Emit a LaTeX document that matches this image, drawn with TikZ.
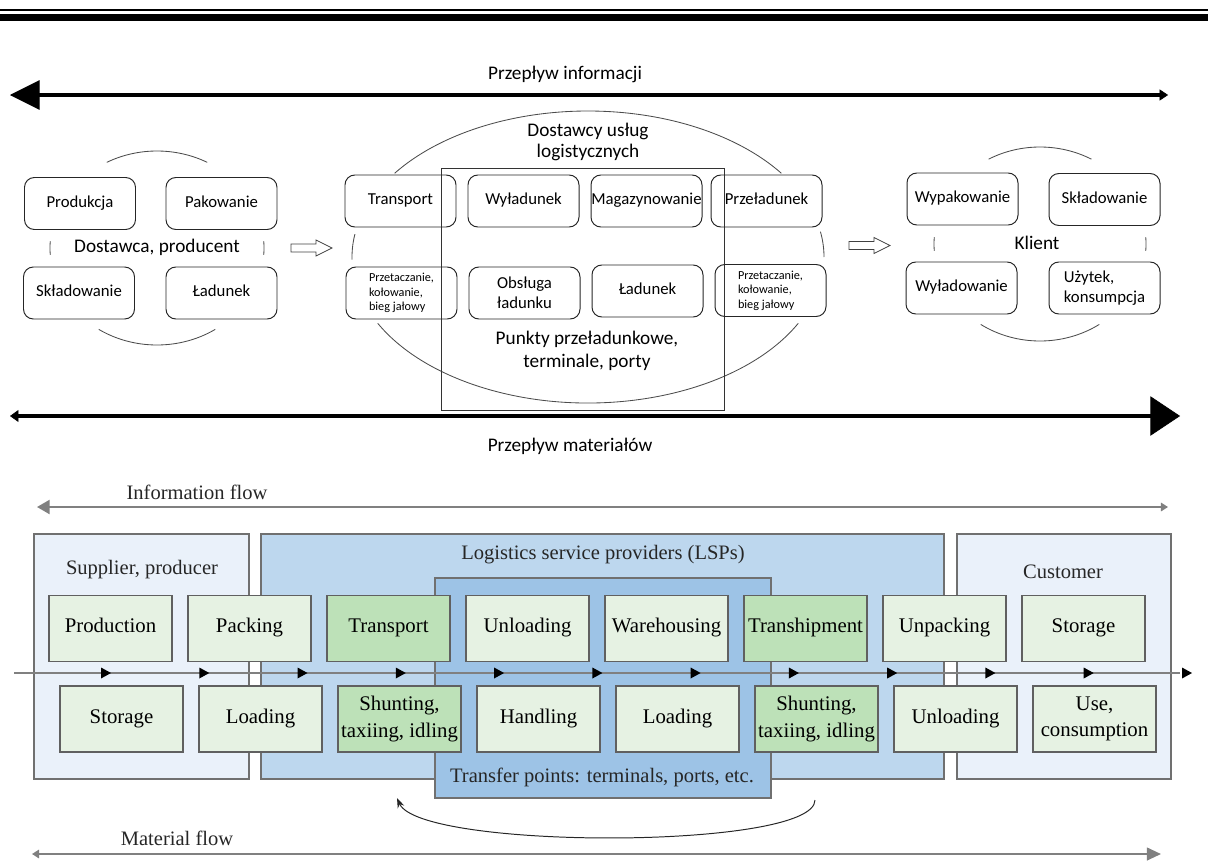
\documentclass[tikz,border=0pt]{standalone}
\usepackage{fontspec}
\setmainfont{Liberation Serif}
\newfontfamily\plfont{Carlito}
\usetikzlibrary{arrows.meta}
\definecolor{lightpanel}{HTML}{EAF1FA}
\definecolor{lsppanel}{HTML}{BDD7EE}
\definecolor{transferpanel}{HTML}{9DC3E6}
\definecolor{taskgreen}{HTML}{E6F2E3}
\definecolor{darkgreen}{HTML}{BDE1B8}
\definecolor{framegray}{HTML}{606060}
\newcommand{\Px}{0.025cm}
\newcommand{\BlockArrow}[1]{%
  \draw[draw=black!75, line width=0.6pt] #1 -- ++(25,0) -- ++(0,-4) -- ++(16,8)
     -- ++(-16,8) -- ++(0,-4) -- ++(-25,0) -- cycle;}
\tikzset{Cell/.style={
    inner sep=0pt,
    minimum width=111*\Px,
    minimum height=52*\Px,
    rounded corners=7pt,
    draw=black!85,
    line width=0.7pt,
    font=\plfont\fontsize{11.9}{14.3}\selectfont,
    text height=1.55ex,
    text depth=0.45ex,
    align=center,
    }
}
\tikzset{Task/.style={
    inner sep=0pt,
    minimum width=123*\Px,
    minimum height=66*\Px,
    draw=framegray,
    line width=1pt,
    fill=taskgreen,
    font=\fontsize{14.8}{19}\selectfont,
    text height=1.75ex,
    text depth=0.45ex,
    align=center,
    }
}

\begin{document}
\begin{tikzpicture}[x=\Px, y=-\Px,
    Arc/.style={draw=black!70, line width=0.6pt},
    Panel/.style={draw=framegray!90, line width=1pt},
    Label/.style={font=\plfont\fontsize{13.7}{16}\selectfont, align=center},
    Small/.style={font=\plfont\fontsize{8.7}{10.2}\selectfont, align=left},
    Multi/.style={text height=, text depth=},
    Caption/.style={font=\fontsize{14.6}{17}\selectfont, text=black!85},
    Flow/.style={draw=black!50, line width=1.5pt},
    Bold/.style={draw=black, line width=2.8pt},
]
\useasboundingbox (0,0) rectangle (1208,861);

% header rule
\fill[black] (0,9) rectangle (1208,11);
\fill[black] (0,13.5) rectangle (1208,20.5);

% Polish version
\node[Label] (infoPL) at (565,74) {Przepływ informacji};
\coordinate (infoPLa) at (10,95);
\coordinate (infoPLb) at (1168,95);
\draw[Bold, {Triangle[length=21pt,width=21pt,line width=0.4pt]}-{Triangle[length=6pt,width=8pt,line width=0.4pt]}] (infoPLa) -- (infoPLb);

\node[Label] (matPL) at (570,446) {Przepływ materiałów};
\coordinate (matPLa) at (10,416);
\coordinate (matPLb) at (1180,416);
\draw[Bold, {Triangle[length=6pt,width=8.5pt,line width=0.4pt]}-{Triangle[length=21pt,width=28pt,line width=0.4pt]}] (matPLa) -- (matPLb);

% supplier group
\coordinate (supC) at (157,248);
\foreach \a/\b in {242/298, 57/123, 176/184, -4/4}
  \draw[Arc] (supC) ++(\a:107 and 97) arc[start angle=\a, end angle=\b, x radius=107, y radius=97];
\node[Cell] (produkcja) at (80,203.5) {Produkcja};
\node[Cell] (pakowanie) at (221.5,203.5) {Pakowanie};
\node[Cell] (skladS) at (79,293) {Składowanie};
\node[Cell] (ladunekS) at (221.5,293) {Ładunek};
\node[Label] (dostawca) at (157,247) {Dostawca, producent};
\BlockArrow{(291,244)}

% logistics providers group
\coordinate (lspC) at (588,257);
\foreach \a/\b in {215/325, 27/153, 179/189, 350/360}
  \draw[Arc] (lspC) ++(\a:236 and 146) arc[start angle=\a, end angle=\b, x radius=236, y radius=146];
\draw[draw=black!80, line width=0.6pt] (441,168) rectangle (724,410);
\node[Label, font=\plfont\fontsize{13.7}{15}\selectfont] (dostawcy) at (588,142) {Dostawcy usług\\logistycznych};
\node[Cell] (transportPL) at (400.5,201) {Transport};
\node[Cell] (wyladunek) at (523.5,201) {Wyładunek};
\node[Cell] (magazyn) at (646.5,201) {Magazynowanie};
\node[Cell] (przeladunek) at (766.5,201) {Przeładunek};
\node[Cell, Small, Multi] (przetaczA) at (401.5,293) {Przetaczanie,\\kołowanie,\\bieg jałowy};
\node[Cell, Multi] (obsluga) at (524.5,293) {Obsługa\\ładunku};
\node[Cell] (ladunekT) at (647.5,291) {Ładunek};
\node[Cell, Small, Multi] (przetaczB) at (770.5,290.5) {Przetaczanie,\\kołowanie,\\bieg jałowy};
\node[Label] (punkty) at (587,351) {Punkty przeładunkowe,\\terminale, porty};
\BlockArrow{(849,241.5)}

% customer group
\coordinate (cliC) at (1040,244);
\foreach \a/\b in {241/299, 56/124, 176/184, -4/4}
  \draw[Arc] (cliC) ++(\a:106 and 97) arc[start angle=\a, end angle=\b, x radius=106, y radius=97];
\node[Cell] (wypak) at (962.5,199) {Wypakowanie};
\node[Cell] (skladC) at (1104.5,199.5) {Składowanie};
\node[Cell] (wyladow) at (961.5,288) {Wyładowanie};
\node[Cell, Multi, align=left] (uzytek) at (1104.5,288) {Użytek,\\konsumpcja};
\node[Label] (klient) at (1037,243) {Klient};

% English version
\node[Caption] (infoEN) at (197,492) {Information flow};
\coordinate (infoENa) at (37,507);
\coordinate (infoENb) at (1168,507);
\draw[Flow, {Triangle[length=9pt,width=10pt]}-{Triangle[length=5pt,width=6pt]}] (infoENa) -- (infoENb);

\draw[Panel, fill=lightpanel] (34,534) rectangle (249,779);
\draw[Panel, fill=lsppanel] (261,534) rectangle (944,779);
\draw[Panel, fill=lightpanel] (957,534) rectangle (1171,779);
\draw[Panel, fill=transferpanel] (435,578) rectangle (771,798);
\node[Caption] (supplier) at (142,570) {Supplier, producer};
\node[Caption] (lsp) at (603,555) {Logistics service providers (LSPs)};
\node[Caption] (customer) at (1063,572) {Customer};
\node[Caption] (transfer) at (602,777) {Transfer points: terminals, ports, etc.};

\coordinate (flowA) at (14,673);
\coordinate (flowB) at (1180,673);
\draw[Flow] (flowA) -- (flowB);
\foreach \x in {111,209.3,307.5,405.8,504.1,602.4,700.6,798.9,897.2,995.4,1093.7,1192}
  \fill[black] (\x,673) -- ++(-10,-5.5) -- ++(0,11) -- cycle;

\node[Task] (production) at (110.5,628.5) {Production};
\node[Task] (packing) at (249.5,628.5) {Packing};
\node[Task, fill=darkgreen] (transport) at (388.5,628.5) {Transport};
\node[Task] (unloadingT) at (527.5,628.5) {Unloading};
\node[Task] (warehousing) at (666.5,628.5) {Warehousing};
\node[Task, fill=darkgreen] (transhipment) at (805.5,628.5) {Transhipment};
\node[Task] (unpacking) at (944.5,628.5) {Unpacking};
\node[Task] (storageC) at (1083.5,628.5) {Storage};

\node[Task] (storageS) at (121.5,719) {Storage};
\node[Task] (loadingS) at (260.5,719) {Loading};
\node[Task, Multi, fill=darkgreen] (shuntingA) at (399.5,719) {Shunting,\\taxiing, idling};
\node[Task] (handling) at (538.5,719) {Handling};
\node[Task] (loadingT) at (677.5,719) {Loading};
\node[Task, Multi, fill=darkgreen] (shuntingB) at (816.5,719) {Shunting,\\taxiing, idling};
\node[Task] (unloadingC) at (955.5,719) {Unloading};
\node[Task, Multi] (use) at (1094.5,719) {Use,\\consumption};

\coordinate (loopA) at (815,800);
\coordinate (loopB) at (397,798);
\draw[black!85, line width=0.7pt, -{Stealth[length=7pt,width=5pt]}] (loopA) .. controls (815,850) and (420,850) .. (loopB);

\node[Caption] (material) at (177,838) {Material flow};
\coordinate (matENa) at (32,854);
\coordinate (matENb) at (1161,854);
\draw[Flow, {Triangle[length=5pt,width=6pt]}-{Triangle[length=10pt,width=9pt]}] (matENa) -- (matENb);
\end{tikzpicture}
\end{document}
